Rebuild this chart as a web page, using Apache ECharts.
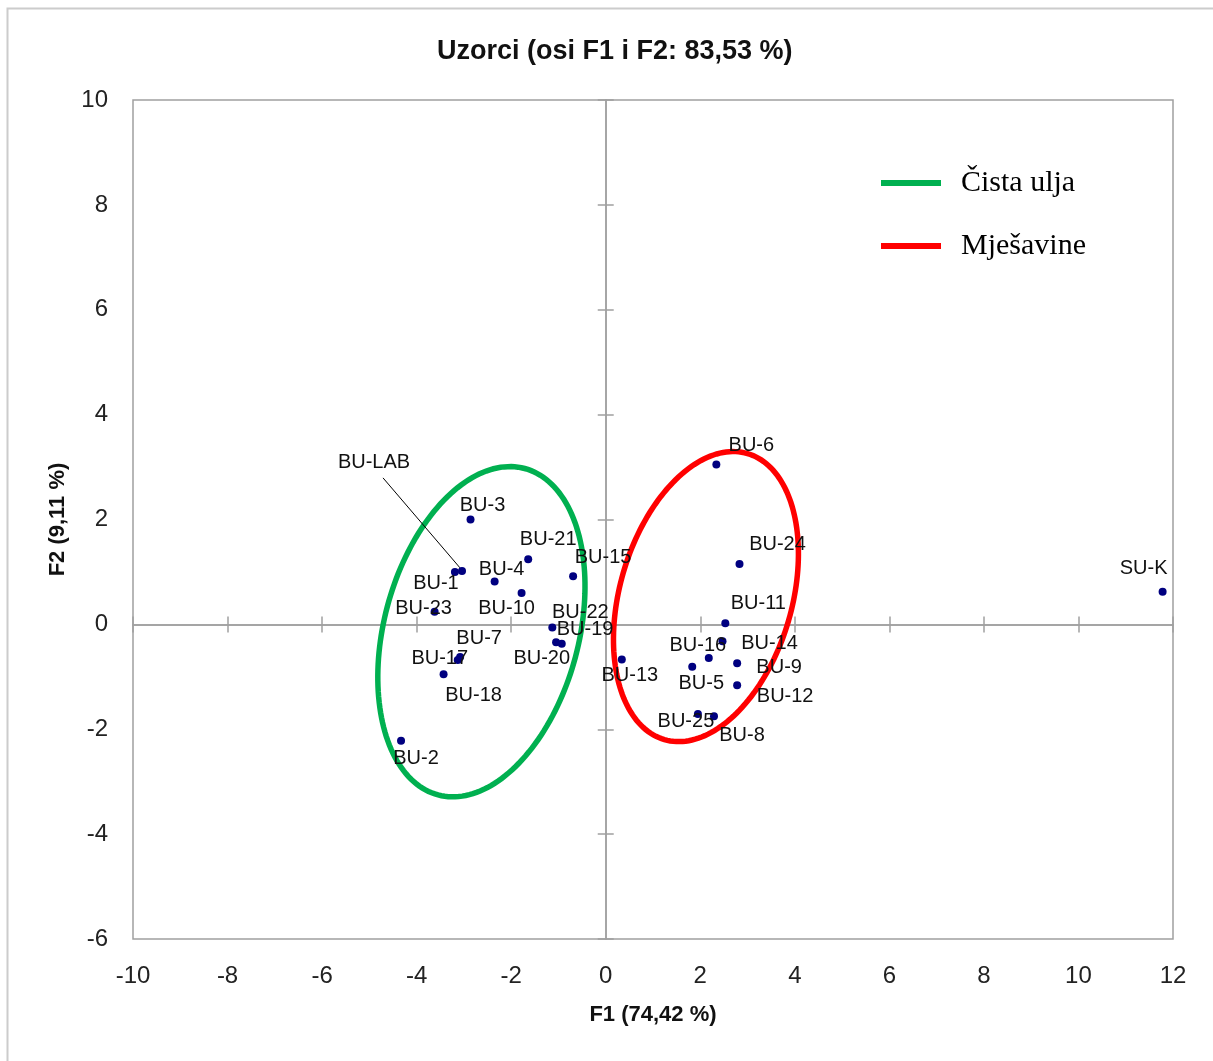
<!DOCTYPE html>
<html>
<head>
<meta charset="utf-8">
<script src="https://cdn.jsdelivr.net/npm/echarts@6/dist/echarts.min.js"></script>
<style>
html,body{margin:0;padding:0;background:#fff;}
#chart{width:1213px;height:1061px;}
</style>
</head>
<body>
<div id="chart"></div>
<script>
// ---- data ----
const sampleNames = ['BU-1','BU-2','BU-3','BU-4','BU-5','BU-6','BU-7','BU-8','BU-9','BU-10','BU-11','BU-12','BU-13','BU-14','BU-15','BU-16','BU-17','BU-18','BU-19','BU-20','BU-21','BU-22','BU-23','BU-24','BU-25','SU-K'];
const f1Values = [-3.19,-4.33,-2.86,-2.35,1.83,2.34,-3.08,2.29,2.78,-1.78,2.53,2.78,0.34,2.47,-0.69,2.18,-3.13,-3.43,-1.05,-0.93,-1.64,-1.13,-3.62,2.83,1.95,11.78];
const f2Values = [1.00,-2.22,2.00,0.82,-0.81,3.05,-0.62,-1.75,-0.74,0.60,0.02,-1.16,-0.67,-0.32,0.92,-0.64,-0.68,-0.95,-0.34,-0.37,1.24,-0.06,0.24,1.15,-1.71,0.62];
const labName = ['BU-LAB'];
const labF1 = [-3.04];
const labF2 = [1.02];
const groupNames = ['Čista ulja','Mješavine'];
const groupCenterF1 = [-2.63, 2.12];
const groupCenterF2 = [-0.14, 0.53];
const groupRadiusF1 = [2.06, 1.82];
const groupRadiusF2 = [3.22, 2.84];
const groupTiltDeg = [14.85, 16.2];
const xTicks = {min:-10, max:12, interval:2};
const yTicks = {min:-6, max:10, interval:2};

// ---- label placement (pixels, relative to point) ----
const labelOffsets = {
 'BU-1':[-19,12],'BU-2':[15,18],'BU-3':[12,-14],'BU-4':[7,-12],'BU-5':[9,17],'BU-6':[35,-19],
 'BU-7':[19,-18],'BU-8':[28,19],'BU-9':[42,4],'BU-10':[-15,16],'BU-11':[33,-20],'BU-12':[48,11],
 'BU-13':[8,16],'BU-14':[47,2],'BU-15':[30,-19],'BU-16':[-11,-12],'BU-17':[-18,-2],'BU-18':[30,21],
 'BU-19':[29,-13],'BU-20':[-20,15],'BU-21':[20,-20],'BU-22':[28,-15],'BU-23':[-11,-3],'BU-24':[38,-20],
 'BU-25':[-12,7],'SU-K':[-19,-23]
};
const labLabelShift = [-88,-108];
const labLeaderStart = [-79,-93];
const groupColors = ['#00B050','#FF0000'];
const gray = '#a0a0a0';
const sans = 'Liberation Sans';
const labelColor = '#111';

const chart = echarts.init(document.getElementById('chart'));

const pts = sampleNames.map((n,i)=>({
  name:n, value:[f1Values[i], f2Values[i]],
  label:{offset: labelOffsets[n]}
}));

function ellipseSeries(gi){
  return {
    type:'custom', name: groupNames[gi], coordinateSystem:'cartesian2d',
    xAxisIndex:0, yAxisIndex:0,
    itemStyle:{color: groupColors[gi]},
    data:[[groupCenterF1[gi], groupCenterF2[gi], groupRadiusF1[gi], groupRadiusF2[gi], groupTiltDeg[gi]]],
    z: 3,
    renderItem(params, api){
      const c = api.coord([api.value(0), api.value(1)]);
      const s = api.size([1,1]);
      const rx = api.value(2)*s[0], ry = api.value(3)*s[1];
      const th = api.value(4)*Math.PI/180;
      const cs = Math.cos(th), sn = Math.sin(th);
      const points = [];
      for(let k=0;k<=180;k++){
        const t = k/180*2*Math.PI;
        const px = rx*Math.cos(t), py = ry*Math.sin(t);
        points.push([c[0] + px*cs - py*sn, c[1] + px*sn + py*cs]);
      }
      return {type:'polygon', shape:{points}, style:{fill:'none', stroke: groupColors[gi], lineWidth:5.5}};
    }
  };
}

function zeroAxisX(pos){
  return {type:'value', position:pos, min:xTicks.min, max:xTicks.max, interval:xTicks.interval,
    axisLine:{show:true, onZero:true, onZeroAxisIndex:0, lineStyle:{color:gray, width:1.5}},
    axisTick:{show:true, length:8, lineStyle:{color:gray, width:1.5}},
    axisLabel:{show:false}, splitLine:{show:false}};
}
function zeroAxisY(pos){
  return {type:'value', position:pos, min:yTicks.min, max:yTicks.max, interval:yTicks.interval,
    axisLine:{show:true, onZero:true, onZeroAxisIndex:0, lineStyle:{color:gray, width:1.5}},
    axisTick:{show:true, length:8, lineStyle:{color:gray, width:1.5}},
    axisLabel:{show:false}, splitLine:{show:false}};
}

chart.setOption({
  backgroundColor:'#fff',
  animation:false,
  title:{text:'Uzorci (osi F1 i F2: 83,53 %)', left:432, top:33,
    textStyle:{fontFamily:sans, fontWeight:'bold', fontSize:27, color:'#111'}},
  legend:{orient:'vertical', left:876, top:163, icon:'rect', itemWidth:60, itemHeight:6, itemGap:33,
    selectedMode:false, data:groupNames,
    textStyle:{fontFamily:'Liberation Serif', fontSize:30, color:'#000', padding:[0,0,0,15]}},
  graphic:[{type:'rect', shape:{x:7.5, y:8.5, width:1230, height:1070}, style:{fill:'none', stroke:'#cccccc', lineWidth:2}, silent:true}],
  grid:{left:133, right:40, top:100, bottom:122, show:true, borderColor:gray, borderWidth:1.5, backgroundColor:'transparent'},
  xAxis:[
    {type:'value', position:'bottom', min:xTicks.min, max:xTicks.max, interval:xTicks.interval,
     axisLine:{show:false, onZero:false}, axisTick:{show:false}, splitLine:{show:false},
     axisLabel:{fontFamily:sans, fontSize:24, color:'#222', margin:25},
     name:'F1 (74,42 %)', nameLocation:'middle', nameGap:65,
     nameTextStyle:{fontFamily:sans, fontWeight:'bold', fontSize:22, color:'#111'}},
    zeroAxisX('bottom'), zeroAxisX('top')
  ],
  yAxis:[
    {type:'value', position:'left', min:yTicks.min, max:yTicks.max, interval:yTicks.interval,
     axisLine:{show:false, onZero:false}, axisTick:{show:false}, splitLine:{show:false},
     axisLabel:{fontFamily:sans, fontSize:24, color:'#222', margin:25},
     name:'F2 (9,11 %)', nameLocation:'middle', nameGap:64,
     nameTextStyle:{fontFamily:sans, fontWeight:'bold', fontSize:22, color:'#111'}},
    zeroAxisY('left'), zeroAxisY('right')
  ],
  series:[
    ellipseSeries(0), ellipseSeries(1),
    {type:'custom', name:'leader', coordinateSystem:'cartesian2d', xAxisIndex:0, yAxisIndex:0, z:4, silent:true,
     data: labName.map((n,i)=>[labF1[i], labF2[i]]),
     renderItem(params, api){
       const c = api.coord([api.value(0), api.value(1)]);
       return {type:'line', shape:{x1:c[0]+labLeaderStart[0], y1:c[1]+labLeaderStart[1], x2:c[0]-2, y2:c[1]-3},
         style:{stroke:'#000', lineWidth:1}};
     }},
    {type:'scatter', name:'Uzorci', xAxisIndex:0, yAxisIndex:0, symbol:'circle', symbolSize:8,
     itemStyle:{color:'#000080', opacity:1}, z:5,
     label:{show:true, position:'inside', formatter:'{b}', fontFamily:sans, fontSize:20, color:labelColor, align:'center', verticalAlign:'middle'},
     data:pts},
    {type:'scatter', name:'Lab', xAxisIndex:0, yAxisIndex:0, symbol:'circle', symbolSize:8,
     itemStyle:{color:'#000080', opacity:1}, z:5,
     label:{show:true, position:'inside', formatter:'{b}', offset:labLabelShift, fontFamily:sans, fontSize:20, color:labelColor, align:'center', verticalAlign:'middle'},
     data: labName.map((n,i)=>({name:n, value:[labF1[i], labF2[i]]}))}
  ]
});
</script>
</body>
</html>
